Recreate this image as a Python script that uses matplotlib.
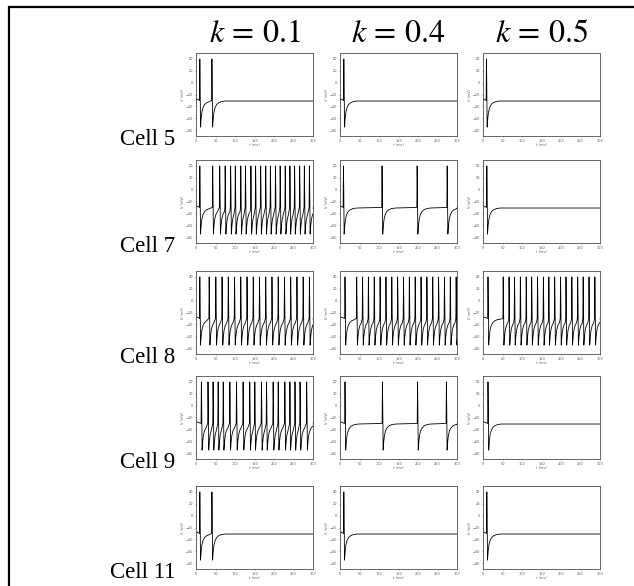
import numpy as np
import matplotlib
matplotlib.use("Agg")
import matplotlib.pyplot as plt
from matplotlib.patches import Rectangle

plt.rcParams['mathtext.fontset'] = 'stix'

# columns / rows
k_labels = [r'$k\,=\,0.1$', r'$k\,=\,0.4$', r'$k\,=\,0.5$']
cell_labels = ['Cell 5', 'Cell 7', 'Cell 8', 'Cell 9', 'Cell 11']

# spike onset times (ms)
spikes = {
    ('Cell 5', 0): [9, 40],
    ('Cell 5', 1): [9],
    ('Cell 5', 2): [8],
    ('Cell 7', 0): [9, 42, 60, 74, 88, 100, 114, 126, 140, 152, 165, 178, 190,
                    203, 215, 228, 240, 252, 265, 277, 290],
    ('Cell 7', 1): [8, 107, 197, 274],
    ('Cell 7', 2): [9],
    ('Cell 8', 0): [9, 33, 50, 66, 82, 98, 114, 130, 146, 162, 178, 194, 210,
                    226, 242, 258, 274, 290],
    ('Cell 8', 1): [12, 42, 57, 72, 87, 102, 117, 132, 147, 162, 177, 192, 207,
                    222, 237, 252, 267, 282, 297],
    ('Cell 8', 2): [12, 51, 66, 80, 95, 110, 124, 139, 154, 168, 183, 198, 212,
                    227, 242, 256, 271, 286],
    ('Cell 9', 0): [13, 30, 43, 56, 69, 86, 103, 120, 137, 150, 167, 180, 197,
                    210, 227, 240, 253, 266, 283],
    ('Cell 9', 1): [12, 108, 198, 272],
    ('Cell 9', 2): [12],
    ('Cell 11', 0): [9, 40],
    ('Cell 11', 1): [9],
    ('Cell 11', 2): [9],
}

# single spike waveform: time after onset (ms), membrane potential (mV)
spike_t = [0, 0.8, 1.6, 2.6, 4, 6, 9, 13, 18, 25, 35]
spike_v = [-30, 40, 0, -75, -62, -50, -42, -37, -34, -32, -31]
v_start = -27
t_end = 300


def trace(onsets):
    ts, vs = [0.0], [v_start]
    for i, s in enumerate(onsets):
        nxt = onsets[i + 1] if i + 1 < len(onsets) else t_end + 100
        for dt, v in zip(spike_t, spike_v):
            if s + dt < nxt:
                ts.append(s + dt)
                vs.append(v)
    ts.append(t_end)
    vs.append(spike_v[-1])
    return ts, vs


W, H = 634, 586
fig = plt.figure(figsize=(W / 100, H / 100), dpi=100)

# outer frame of the scanned figure
fig.add_artist(Rectangle((9 / W, -0.1), 1.2, 1.1 - 7 / H, transform=fig.transFigure,
                         fill=False, lw=1.6, ec='black'))

col_left = [196, 340, 483]
row_top = [53, 160, 271, 376, 486]
ax_w, ax_h = 117, 83

for r, cell in enumerate(cell_labels):
    for c in range(3):
        ax = fig.add_axes([col_left[c] / W, 1 - (row_top[r] + ax_h) / H, ax_w / W, ax_h / H])
        t, v = trace(spikes[(cell, c)])
        ax.plot(t, v, color='black', lw=0.6)
        ax.set_xlim(0, t_end)
        ax.set_ylim(-90, 50)
        ax.set_xticks(np.arange(0, 301, 50))
        ax.set_yticks(np.arange(-80, 41, 20))
        ax.tick_params(labelsize=2.5, length=1, width=0.4, pad=1, colors='0.35')
        ax.set_xlabel('t (ms)', fontsize=2.5, labelpad=0.5, color='0.35')
        ax.set_ylabel('V (mV)', fontsize=2.5, labelpad=0.5, color='0.35')
        for sp in ax.spines.values():
            sp.set_linestyle((0, (2, 1)))
            sp.set_linewidth(0.6)
            sp.set_color('0.3')
        if r == 0:
            fig.text((col_left[c] + ax_w / 2) / W, 1 - 42 / H, k_labels[c],
                     ha='center', va='baseline', fontsize=23)
    fig.text(175 / W, 1 - (row_top[r] + ax_h + 9) / H, cell,
             ha='right', va='baseline', fontsize=16.5, family='Liberation Serif')

fig.savefig('out.png', dpi=100)
